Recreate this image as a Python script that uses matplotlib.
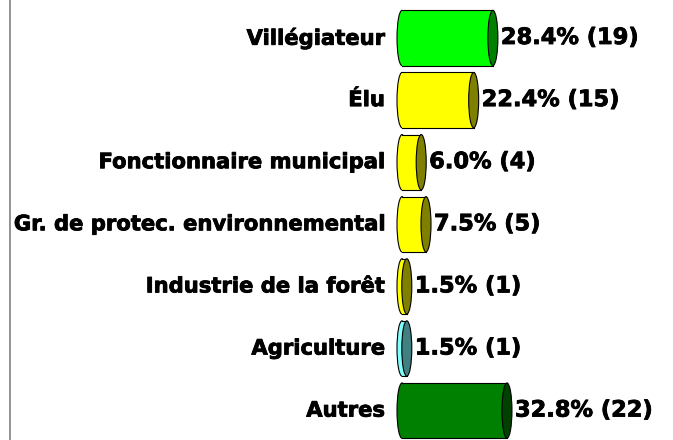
import matplotlib
matplotlib.use("Agg")
import matplotlib.pyplot as plt
import matplotlib.patheffects as pe
from matplotlib.patches import Ellipse, Rectangle
from matplotlib.lines import Line2D

categories = ["Villégiateur", "Élu", "Fonctionnaire municipal",
              "Gr. de protec. environnemental", "Industrie de la forêt",
              "Agriculture", "Autres"]
percents = [28.4, 22.4, 6.0, 7.5, 1.5, 1.5, 32.8]
counts = [19, 15, 4, 5, 1, 1, 22]
face_colors = ["#00ff00", "#ffff00", "#ffff00", "#ffff00", "#ffff00", "#80ffff", "#008000"]
end_colors = ["#008000", "#808000", "#808000", "#808000", "#808000", "#408080", "#004000"]

# pixel layout helpers
PX_PER_PCT = 3.2
X0_PX = 402
W, H = 673, 440
Y0_PX, DY_PX = 38, 62.1

fig = plt.figure(figsize=(W / 100, H / 100), dpi=100)
ax = fig.add_axes([0, 0, 1, 1])
ax.set_xlim(-X0_PX / PX_PER_PCT, (W - X0_PX) / PX_PER_PCT)
ax.set_ylim((H - Y0_PX) / DY_PX, -Y0_PX / DY_PX)
ax.axis("off")

bar_h = 0.89
ell_w = 2 * 5 / PX_PER_PCT
heavy = [pe.withStroke(linewidth=0.6, foreground="black")]

for i, (cat, p, n, fc, ec) in enumerate(zip(categories, percents, counts, face_colors, end_colors)):
    # left cap
    ax.add_patch(Ellipse((0, i), ell_w, bar_h, facecolor=fc, edgecolor="black", lw=0.8, zorder=2))
    # body
    ax.add_patch(Rectangle((0, i - bar_h / 2), p, bar_h, facecolor=fc, edgecolor="none", zorder=3))
    ax.plot([0, p], [i - bar_h / 2, i - bar_h / 2], color="black", lw=0.8, zorder=4)
    ax.plot([0, p], [i + bar_h / 2, i + bar_h / 2], color="black", lw=0.8, zorder=4)
    # right cap
    ax.add_patch(Ellipse((p, i), ell_w, bar_h, facecolor=ec, edgecolor="black", lw=0.8, zorder=5))

    ax.text(-17 / PX_PER_PCT, i, cat, ha="right", va="center",
            fontsize=15.2, fontweight="bold", family="DejaVu Sans", path_effects=heavy)
    ax.text(p + ell_w / 2 + 3 / PX_PER_PCT, i, f"{p:.1f}% ({n})", ha="left", va="center",
            fontsize=16.2, fontweight="bold", family="DejaVu Sans", path_effects=heavy)

fig.add_artist(Line2D([10 / W, 10 / W], [0, 1], color="#808080", lw=1.2))

fig.savefig("out.png", dpi=100)
